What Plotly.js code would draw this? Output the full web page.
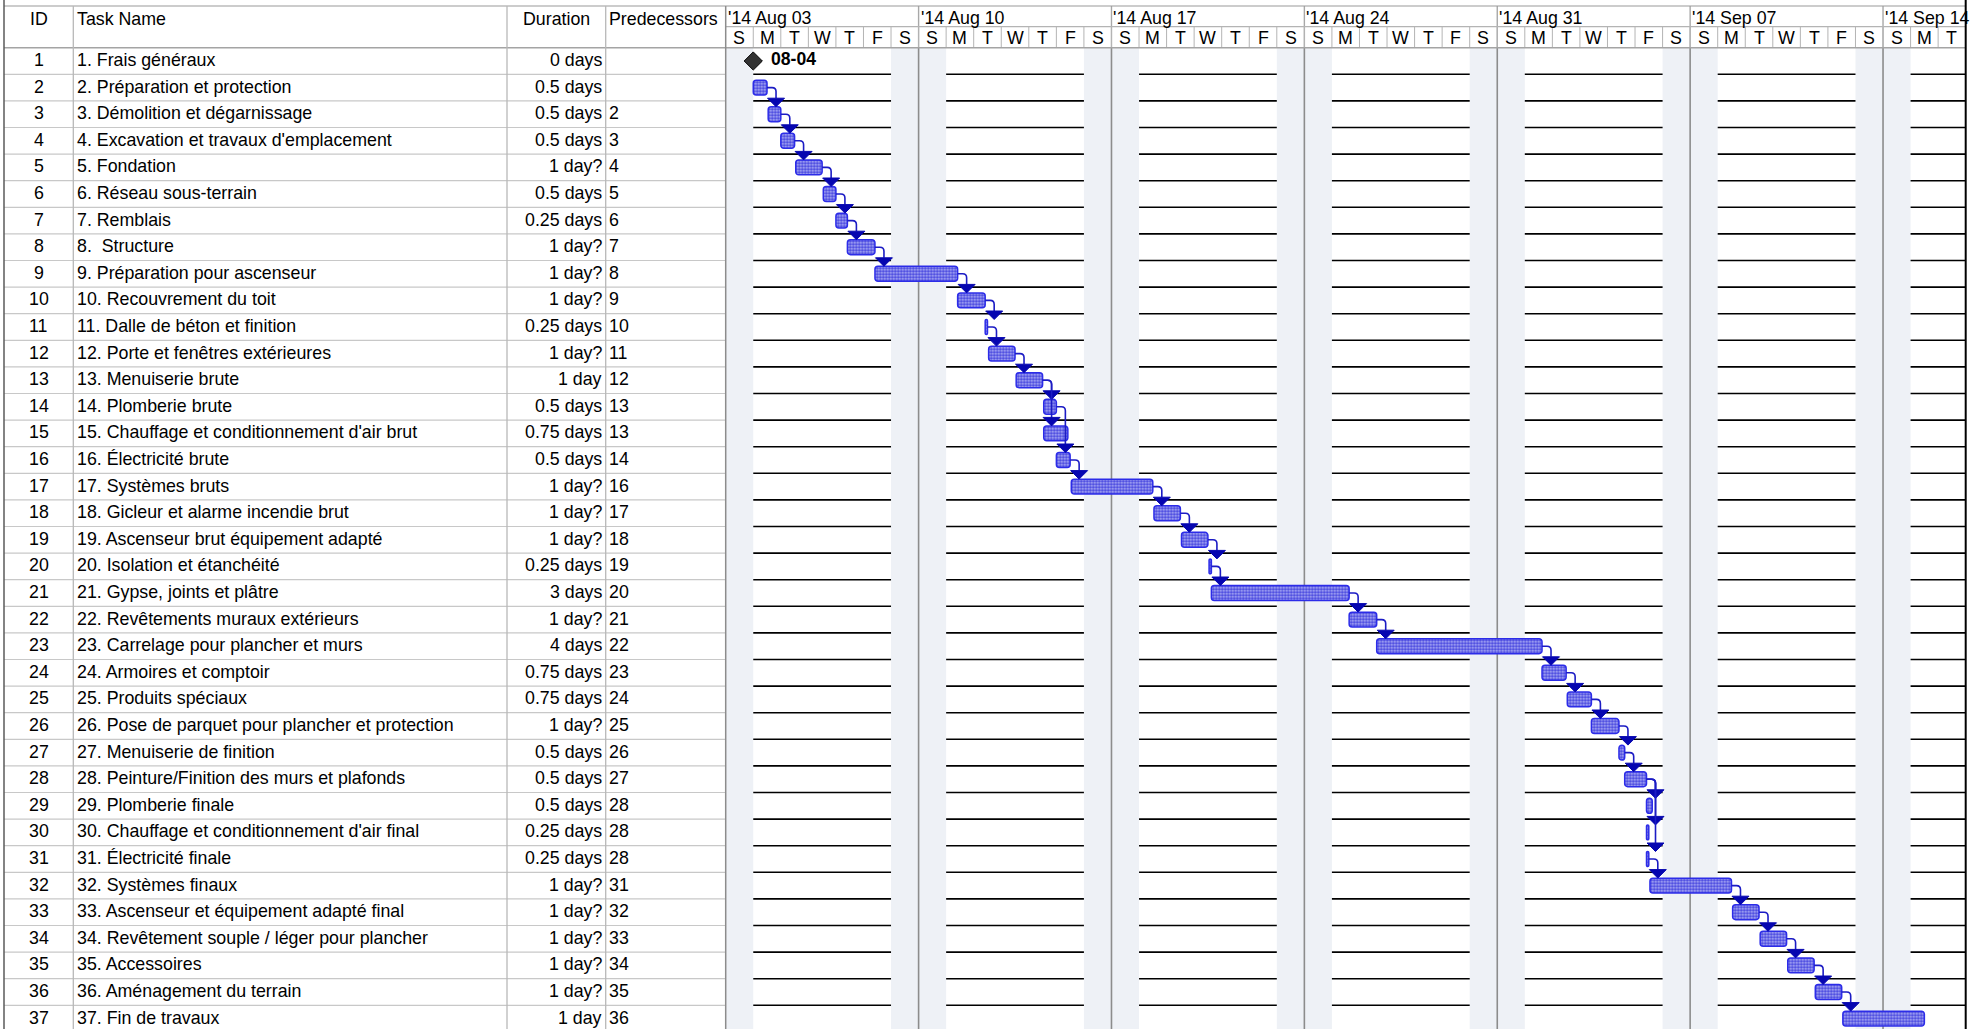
<!DOCTYPE html>
<html>
<head>
<meta charset="utf-8">
<script src="https://cdn.plot.ly/plotly-3.0.1.min.js"></script>
<style>html,body{margin:0;padding:0;background:#fff;}#chart{width:1986px;height:1029px;}</style>
</head>
<body>
<div id="chart"></div>
<script>
// ---------------- DATA ----------------
const taskIds = [1,2,3,4,5,6,7,8,9,10,11,12,13,14,15,16,17,18,19,20,21,22,23,24,25,26,27,28,29,30,31,32,33,34,35,36,37];
const taskNames = [
  "1. Frais généraux",
  "2. Préparation et protection",
  "3. Démolition et dégarnissage",
  "4. Excavation et travaux d'emplacement",
  "5. Fondation",
  "6. Réseau sous-terrain",
  "7. Remblais",
  "8.\u00A0 Structure",
  "9. Préparation pour ascenseur",
  "10. Recouvrement du toit",
  "11. Dalle de béton et finition",
  "12. Porte et fenêtres extérieures",
  "13. Menuiserie brute",
  "14. Plomberie brute",
  "15. Chauffage et conditionnement d'air brut",
  "16. Électricité brute",
  "17. Systèmes bruts",
  "18. Gicleur et alarme incendie brut",
  "19. Ascenseur brut équipement adapté",
  "20. Isolation et étanchéité",
  "21. Gypse, joints et plâtre",
  "22. Revêtements muraux extérieurs",
  "23. Carrelage pour plancher et murs",
  "24. Armoires et comptoir",
  "25. Produits spéciaux",
  "26. Pose de parquet pour plancher et protection",
  "27. Menuiserie de finition",
  "28. Peinture/Finition des murs et plafonds",
  "29. Plomberie finale",
  "30. Chauffage et conditionnement d'air final",
  "31. Électricité finale",
  "32. Systèmes finaux",
  "33. Ascenseur et équipement adapté final",
  "34. Revêtement souple / léger pour plancher",
  "35. Accessoires",
  "36. Aménagement du terrain",
  "37. Fin de travaux"
];
const durations = ["0 days","0.5 days","0.5 days","0.5 days","1 day?","0.5 days","0.25 days","1 day?","1 day?","1 day?",
  "0.25 days","1 day?","1 day","0.5 days","0.75 days","0.5 days","1 day?","1 day?","1 day?","0.25 days",
  "3 days","1 day?","4 days","0.75 days","0.75 days","1 day?","0.5 days","0.5 days","0.5 days","0.25 days",
  "0.25 days","1 day?","1 day?","1 day?","1 day?","1 day?","1 day"];
const predecessors = ["","","2","3","4","5","6","7","8","9","10","11","12","13","13","14","16","17","18","19",
  "20","21","22","23","24","25","26","27","28","28","28","31","32","33","34","35","36"];
// displayed bar start / finish, as read from the timeline
const startTimes = ["2014-08-04 00:00","2014-08-04 00:00","2014-08-04 13:00","2014-08-05 00:00","2014-08-05 13:00",
  "2014-08-06 13:00","2014-08-07 00:00","2014-08-07 10:00","2014-08-08 10:00","2014-08-11 10:00",
  "2014-08-12 10:00","2014-08-12 13:00","2014-08-13 13:00","2014-08-14 13:00","2014-08-14 13:00",
  "2014-08-15 00:00","2014-08-15 13:00","2014-08-18 13:00","2014-08-19 13:00","2014-08-20 13:00",
  "2014-08-20 15:00","2014-08-25 15:00","2014-08-26 15:00","2014-09-01 15:00","2014-09-02 13:00",
  "2014-09-03 10:00","2014-09-04 10:00","2014-09-04 15:00","2014-09-05 10:00","2014-09-05 10:00",
  "2014-09-05 10:00","2014-09-05 13:00","2014-09-08 13:00","2014-09-09 13:00","2014-09-10 13:00",
  "2014-09-11 13:00","2014-09-12 13:00"];
const finishTimes = ["2014-08-04 00:00","2014-08-04 12:00","2014-08-05 00:00","2014-08-05 12:00","2014-08-06 12:00",
  "2014-08-07 00:00","2014-08-07 10:00","2014-08-08 10:00","2014-08-11 10:00","2014-08-12 10:00",
  "2014-08-12 12:00","2014-08-13 12:00","2014-08-14 12:00","2014-08-15 00:00","2014-08-15 10:00",
  "2014-08-15 12:00","2014-08-18 12:00","2014-08-19 12:00","2014-08-20 12:00","2014-08-20 15:00",
  "2014-08-25 15:00","2014-08-26 15:00","2014-09-01 15:00","2014-09-02 12:00","2014-09-03 10:00",
  "2014-09-04 10:00","2014-09-04 15:00","2014-09-05 10:00","2014-09-05 15:00","2014-09-05 12:00",
  "2014-09-05 12:00","2014-09-08 12:00","2014-09-09 12:00","2014-09-10 12:00","2014-09-11 12:00",
  "2014-09-12 12:00","2014-09-15 12:00"];
const weekLabels = ["'14 Aug 03","'14 Aug 10","'14 Aug 17","'14 Aug 24","'14 Aug 31","'14 Sep 07","'14 Sep 14"];
const weekStarts = ["2014-08-03","2014-08-10","2014-08-17","2014-08-24","2014-08-31","2014-09-07","2014-09-14"];
const dayLetters = ["S","M","T","W","T","F","S"];
const columnHeaders = ["ID","Task Name","Duration","Predecessors"];
const timelineEnd = "2014-09-17 00:00";

// ---------------- LAYOUT GEOMETRY ----------------
const W = 1986, H = 1029;
const GX0 = 725.7, GX1 = 1965.7;          // gantt area (px)
const HEAD_TOP = 6, HEAD_MID = 26.7, HEAD_BOT = 47.7;
const ROWH = 26.6;
const COL_ID = 73.3, COL_NAME = 507, COL_DUR = 605.7, LEFT = 4;
const FONT = "Liberation Sans, Arial, Helvetica, sans-serif";
const FS = 17.8;

function toDays(s){
  const parts = s.split(' ');
  const d = parts[0].split('-').map(Number);
  const t = (parts[1] || '00:00').split(':').map(Number);
  const o = weekStarts[0].split('-').map(Number);
  return (Date.UTC(d[0], d[1]-1, d[2], t[0], t[1]) - Date.UTC(o[0], o[1]-1, o[2])) / 864e5;
}
const px = v => v / W;
const py = v => 1 - v / H;

const xMax = toDays(timelineEnd);
const yBottom = 0.5 + (H - HEAD_BOT) / ROWH;
const pxd = (GX1 - GX0) / xMax;  // px per day

const starts = startTimes.map(toDays);
const finishes = finishTimes.map(toDays);

// ---------------- SHAPES ----------------
const shapes = [];
const nRows = taskIds.length;
// gantt row lines (subplot layer)
for (let k = 1; k < nRows; k++) {
  shapes.push({type:'line', layer:'below', xref:'x', yref:'y', x0:0, x1:xMax, y0:k+0.5, y1:k+0.5,
    line:{color:'#000', width:1.6}});
}
// weekend shading (same layer, drawn after the row lines so it interrupts them)
weekStarts.forEach(ws => {
  const d = toDays(ws);
  shapes.push({type:'rect', layer:'below', xref:'x', yref:'y', x0:Math.max(0,d-1), x1:Math.min(xMax,d+1),
    y0:0.5, y1:yBottom + 1, fillcolor:'#eef1f6', line:{width:0}});
});
// week dividers
weekStarts.forEach((ws, i) => {
  if (i === 0) return;
  const d = toDays(ws);
  shapes.push({type:'line', layer:'below', xref:'x', yref:'y', x0:d, x1:d, y0:0.5, y1:yBottom + 1,
    line:{color:'#8c8c8c', width:1.6}});
  shapes.push({type:'line', layer:'below', xref:'x', yref:'paper', x0:d, x1:d, y0:py(HEAD_BOT), y1:py(HEAD_TOP),
    line:{color:'#a8a8a8', width:1.4}});
});
// day dividers in header
for (let d = 1; d < xMax; d++) {
  shapes.push({type:'line', layer:'below', xref:'x', yref:'paper', x0:d, x1:d, y0:py(HEAD_BOT), y1:py(HEAD_MID),
    line:{color:'#b4b4b4', width:1}});
}
// header horizontal lines
shapes.push({type:'line', xref:'paper', yref:'paper', x0:px(GX0), x1:px(GX1), y0:py(HEAD_MID), y1:py(HEAD_MID), line:{color:'#b4b4b4', width:1.2}});
shapes.push({type:'line', xref:'paper', yref:'paper', x0:px(LEFT), x1:px(GX1), y0:py(HEAD_BOT), y1:py(HEAD_BOT), line:{color:'#a4a4a4', width:1.4}});
shapes.push({type:'line', xref:'paper', yref:'paper', x0:px(LEFT), x1:px(GX1), y0:py(HEAD_TOP), y1:py(HEAD_TOP), line:{color:'#9a9a9a', width:1.2}});
// table row lines
for (let k = 1; k < nRows; k++) {
  shapes.push({type:'line', xref:'paper', yref:'y', x0:px(LEFT), x1:px(GX0), y0:k+0.5, y1:k+0.5,
    line:{color:'#c8c8c8', width:1.2}});
}
// table column dividers
[COL_ID, COL_NAME, COL_DUR].forEach(c => {
  shapes.push({type:'line', xref:'paper', yref:'paper', x0:px(c), x1:px(c), y0:0, y1:py(HEAD_TOP), line:{color:'#b8b8b8', width:1.3}});
});
shapes.push({type:'line', xref:'paper', yref:'paper', x0:px(GX0), x1:px(GX0), y0:0, y1:py(HEAD_TOP), line:{color:'#8c8c8c', width:1.5}});
shapes.push({type:'line', xref:'paper', yref:'paper', x0:px(LEFT), x1:px(LEFT), y0:0, y1:1, line:{color:'#5a5a5a', width:1.5}});
shapes.push({type:'line', xref:'paper', yref:'paper', x0:px(GX1), x1:px(GX1), y0:0, y1:1, line:{color:'#000', width:2}});

// dependency links
const hook = 9, rad = 4, barHalf = 7.5, ahH = 8.5, ahW = 8.5;
predecessors.forEach((p, s) => {
  if (!p) return;
  const pi = parseInt(p, 10) - 1;
  const x0 = finishes[pi], y0 = pi + 1;
  const xl = x0 + hook / pxd;
  const yTop = (s + 1) - barHalf / ROWH;
  const yBase = yTop - ahH / ROWH;
  const path = `M ${x0},${y0} L ${xl - rad/pxd},${y0} Q ${xl},${y0} ${xl},${y0 + rad/ROWH} L ${xl},${yBase}`;
  shapes.push({type:'path', layer:'above', xref:'x', yref:'y', path, line:{color:'#1c1cc4', width:1.6}});
  const tri = `M ${xl - ahW/pxd},${yBase} L ${xl + ahW/pxd},${yBase} L ${xl},${yTop} Z`;
  shapes.push({type:'path', layer:'above', xref:'x', yref:'y', path:tri, fillcolor:'#0606b0', line:{color:'#0606b0', width:1}});
});

// ---------------- ANNOTATIONS ----------------
const annotations = [];
const tf = (size, color) => ({family:FONT, size:size || FS, color:color || '#000'});
function ann(o){ annotations.push(Object.assign({showarrow:false, font:tf(), borderpad:0}, o)); }

// table header
ann({text:columnHeaders[0], xref:'paper', yref:'paper', x:px((LEFT+COL_ID)/2), y:py(19), xanchor:'center', yanchor:'middle'});
ann({text:columnHeaders[1], xref:'paper', yref:'paper', x:px(COL_ID+2.5), y:py(19), xanchor:'left', yanchor:'middle'});
ann({text:columnHeaders[2], xref:'paper', yref:'paper', x:px((COL_NAME+COL_DUR)/2), y:py(19), xanchor:'center', yanchor:'middle'});
ann({text:columnHeaders[3], xref:'paper', yref:'paper', x:px(COL_DUR+2.5), y:py(19), xanchor:'left', yanchor:'middle'});
// week labels
weekStarts.forEach((ws, i) => {
  ann({text:weekLabels[i], xref:'x', yref:'paper', x:toDays(ws), xshift:1, y:py(17.5), xanchor:'left', yanchor:'middle'});
});
// day letters
for (let d = 0; d < xMax; d++) {
  ann({text:dayLetters[d % 7], xref:'x', yref:'paper', x:d + 0.5, y:py(38), xanchor:'center', yanchor:'middle'});
}
// table rows
taskIds.forEach((id, i) => {
  const r = i + 1;
  ann({text:String(id), xref:'paper', yref:'y', x:px((LEFT+COL_ID)/2), y:r, yshift:1, xanchor:'center', yanchor:'middle'});
  ann({text:taskNames[i], xref:'paper', yref:'y', x:px(COL_ID+2.5), y:r, yshift:1, xanchor:'left', yanchor:'middle'});
  ann({text:durations[i], xref:'paper', yref:'y', x:px(COL_DUR-3), y:r, yshift:1, xanchor:'right', yanchor:'middle'});
  if (predecessors[i]) ann({text:predecessors[i], xref:'paper', yref:'y', x:px(COL_DUR+2), y:r, yshift:1, xanchor:'left', yanchor:'middle'});
});

// ---------------- TRACES ----------------
const barY = [], barBase = [], barLen = [];
const msX = [], msY = [];
taskIds.forEach((id, i) => {
  if (finishes[i] > starts[i]) { barY.push(i + 1); barBase.push(starts[i]); barLen.push(finishes[i] - starts[i]); }
  else { msX.push(starts[i]); msY.push(i + 1);
    ann({text:'<b>' + startTimes[i].slice(5,10) + '</b>', xref:'x', yref:'y', x:starts[i], y:i+1, xshift:17, yshift:2,
      xanchor:'left', yanchor:'middle', font:tf(17.6)});
  }
});

const bars = {
  type:'bar', orientation:'h', y:barY, base:barBase, x:barLen, width:0.56,
  marker:{color:'#7878ee', cornerradius:3,
    pattern:{shape:'.', fgcolor:'#3c3cdc', bgcolor:'#b8baf8', size:3, solidity:0.55, fillmode:'replace'},
    line:{color:'#2c2ce8', width:1.5}},
  hoverinfo:'skip'
};
const milestones = {
  type:'scatter', mode:'markers', x:msX, y:msY,
  marker:{symbol:'diamond', size:14, color:'#333', line:{color:'#000', width:1}}, hoverinfo:'skip'
};

const layout = {
  width:W, height:H, margin:{l:0, r:0, t:0, b:0},
  paper_bgcolor:'#fff', plot_bgcolor:'rgba(0,0,0,0)', showlegend:false, hovermode:false,
  xaxis:{range:[0, xMax], domain:[px(GX0), px(GX1)], visible:false, fixedrange:true},
  yaxis:{range:[yBottom, 0.5], domain:[0, py(HEAD_BOT)], visible:false, fixedrange:true},
  shapes, annotations
};
Plotly.newPlot('chart', [bars, milestones], layout, {staticPlot:true, displayModeBar:false});
</script>
</body>
</html>
